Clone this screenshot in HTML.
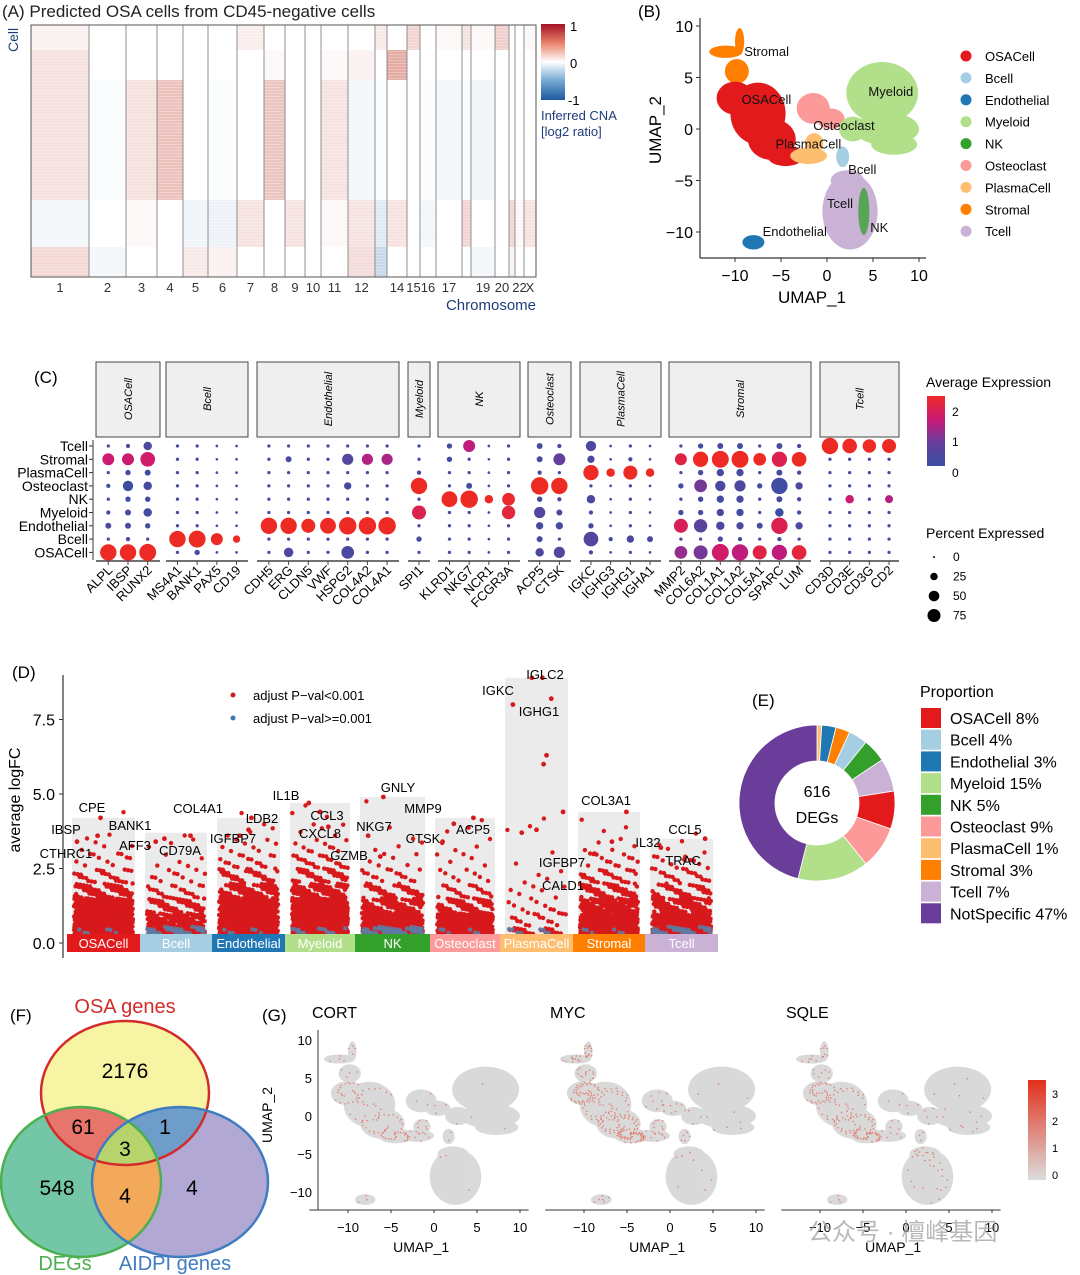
<!DOCTYPE html>
<html><head><meta charset="utf-8">
<style>
html,body{margin:0;padding:0;background:#fff;}
svg{display:block;font-family:"Liberation Sans","Noto Sans CJK SC",sans-serif;}
</style></head>
<body>
<svg id="fig" width="1080" height="1275" viewBox="0 0 1080 1275" xmlns="http://www.w3.org/2000/svg">
<defs>
<linearGradient id="cnaGrad" x1="0" y1="0" x2="0" y2="1"><stop offset="0" stop-color="#a50f26"/><stop offset="0.25" stop-color="#e8826a"/><stop offset="0.5" stop-color="#ffffff"/><stop offset="0.75" stop-color="#72a8d1"/><stop offset="1" stop-color="#1f5a9e"/></linearGradient>
<linearGradient id="expGrad" x1="0" y1="1" x2="0" y2="0"><stop offset="0" stop-color="#3a4fa3"/><stop offset="0.35" stop-color="#6a3d9a"/><stop offset="0.65" stop-color="#c8197a"/><stop offset="1" stop-color="#ee2a24"/></linearGradient>
<linearGradient id="featGrad" x1="0" y1="1" x2="0" y2="0"><stop offset="0" stop-color="#dcdcdc"/><stop offset="1" stop-color="#e2301c"/></linearGradient>
<pattern id="streaks" width="8" height="3" patternUnits="userSpaceOnUse"><rect width="8" height="1" fill="#ffffff" opacity="0.25"/></pattern>
<clipPath id="clipOSA"><ellipse cx="125" cy="1093" rx="84" ry="72"/></clipPath>
<clipPath id="clipDEG"><ellipse cx="81" cy="1182" rx="80" ry="75"/></clipPath>
<clipPath id="clipAID"><ellipse cx="180" cy="1182" rx="88" ry="75"/></clipPath>
</defs>

<text x="2" y="17" font-size="17" fill="#222">(A) Predicted OSA cells from CD45-negative cells</text>
<text x="0" y="0" font-size="14" fill="#1f3d7a" transform="translate(18,52) rotate(-90)">Cell</text>
<g id="heatmap"></g>
<rect x="541" y="24" width="24" height="76" fill="url(#cnaGrad)"/>
<text x="570" y="31" font-size="13">1</text>
<text x="570" y="68" font-size="13">0</text>
<text x="568" y="105" font-size="13">-1</text>
<text x="541" y="120" font-size="13" fill="#1f3d7a">Inferred CNA</text>
<text x="541" y="136" font-size="13" fill="#1f3d7a">[log2 ratio]</text>
<text x="536" y="310" font-size="15" fill="#1f3d7a" text-anchor="end">Chromosome</text>

<text x="638" y="17" font-size="17">(B)</text>
<g id="umapB"></g>
<text x="0" y="0" font-size="17" text-anchor="middle" transform="translate(661,130) rotate(-90)">UMAP_2</text>
<text x="812" y="303" font-size="17" text-anchor="middle">UMAP_1</text>

<text x="34" y="383" font-size="17">(C)</text>
<g id="dotplot"></g>
<text x="926" y="387" font-size="14">Average Expression</text>
<rect x="927" y="396" width="18" height="70" fill="url(#expGrad)"/>
<text x="952" y="416" font-size="12">2</text>
<text x="952" y="446" font-size="12">1</text>
<text x="952" y="477" font-size="12">0</text>
<text x="926" y="538" font-size="14">Percent Expressed</text>
<g id="pctLegend"></g>

<text x="12" y="678" font-size="17">(D)</text>
<g id="manhattan"></g>
<text x="0" y="0" font-size="16" text-anchor="middle" transform="translate(20,800) rotate(-90)">average logFC</text>
<circle cx="233" cy="695" r="2.5" fill="#d7191c"/>
<text x="253" y="700" font-size="13">adjust P−val&lt;0.001</text>
<circle cx="233" cy="718" r="2.5" fill="#3b78b0"/>
<text x="253" y="723" font-size="13">adjust P−val&gt;=0.001</text>

<text x="752" y="706" font-size="17">(E)</text>
<g id="donut"></g>
<text x="817" y="797" font-size="16" text-anchor="middle">616</text>
<text x="817" y="823" font-size="16" text-anchor="middle">DEGs</text>
<text x="920" y="697" font-size="16">Proportion</text>
<g id="donutLegend"></g>

<text x="10" y="1021" font-size="17">(F)</text>
<g>
<ellipse cx="125" cy="1093" rx="84" ry="72" fill="#f7f5a3"/>
<ellipse cx="81" cy="1182" rx="80" ry="75" fill="#74c7a6"/>
<ellipse cx="180" cy="1182" rx="88" ry="75" fill="#b2a8d4"/>
<g clip-path="url(#clipOSA)"><ellipse cx="81" cy="1182" rx="80" ry="75" fill="#e6756b"/><ellipse cx="180" cy="1182" rx="88" ry="75" fill="#6e9dc9"/></g>
<g clip-path="url(#clipDEG)"><ellipse cx="180" cy="1182" rx="88" ry="75" fill="#f2a95a"/></g>
<g clip-path="url(#clipOSA)"><g clip-path="url(#clipDEG)"><ellipse cx="180" cy="1182" rx="88" ry="75" fill="#b7d46c"/></g></g>
<ellipse cx="125" cy="1093" rx="84" ry="72" fill="none" stroke="#d42a2a" stroke-width="2.5"/>
<ellipse cx="81" cy="1182" rx="80" ry="75" fill="none" stroke="#4caf50" stroke-width="2.5"/>
<ellipse cx="180" cy="1182" rx="88" ry="75" fill="none" stroke="#3f7cc0" stroke-width="2.5"/>
<text x="125" y="1078" font-size="21" text-anchor="middle">2176</text>
<text x="83" y="1134" font-size="21" text-anchor="middle">61</text>
<text x="165" y="1134" font-size="21" text-anchor="middle">1</text>
<text x="125" y="1156" font-size="21" text-anchor="middle">3</text>
<text x="57" y="1195" font-size="21" text-anchor="middle">548</text>
<text x="125" y="1203" font-size="21" text-anchor="middle">4</text>
<text x="192" y="1195" font-size="21" text-anchor="middle">4</text>
<text x="125" y="1013" font-size="20" fill="#d42a2a" text-anchor="middle">OSA genes</text>
<text x="65" y="1270" font-size="20" fill="#4caf50" text-anchor="middle">DEGs</text>
<text x="175" y="1270" font-size="20" fill="#3f7cc0" text-anchor="middle">AIDPI genes</text>
</g>

<text x="262" y="1021" font-size="17">(G)</text>
<g id="featurePlots"></g>
<text x="0" y="0" font-size="14" text-anchor="middle" transform="translate(272,1115) rotate(-90)">UMAP_2</text>
<rect x="1028" y="1080" width="18" height="100" fill="url(#featGrad)"/>
<text x="1052" y="1098" font-size="11">3</text>
<text x="1052" y="1125" font-size="11">2</text>
<text x="1052" y="1152" font-size="11">1</text>
<text x="1052" y="1179" font-size="11">0</text>
<text x="808" y="1240" font-size="24" fill="#9a9a9a" opacity="0.7">公众号 · 檀峰基因</text>
</svg>

<script>
const chromNames = ["1","2","3","4","5","6","7","8","9","10","11","12","13","14","15","16","17","18","19","20","21","22","X"];
const chromLabels = ["1","2","3","4","5","6","7","8","9","10","11","12","","14","15","16","17","","19","20","","22","X"];
const chromEdges = [31,89,126,157,183,208,237,264,285,305,321,348,375,387,407,420,436,462,471,495,509,515,524,536];
const cellBandEdges = [25,50,80,200,247,277];
const cnaBand0 = [0.1,0,0,0,0,0,0.12,0,0,0,0,0,0.15,0,0.3,0,0.05,0.2,0.05,0.35,0,0,0.05];
const cnaBand1 = [0.22,0,0,0,0,0,0,0.05,0,0,0.05,0.1,0,0.6,0,0,0,0,0,0,0,0,0];
const cnaBand2 = [0.22,-0.05,0.22,0.45,0,-0.03,0,0.42,0,0,0.2,-0.1,-0.05,0,0,-0.05,-0.1,-0.05,-0.12,0,0,0,0];
const cnaBand3 = [-0.1,0,0.05,0,-0.12,-0.15,0.2,0,0.2,0,0.05,0.2,-0.25,0.2,0,-0.1,0,0.3,0,0,0.3,0.05,0.2];
const cnaBand4 = [0.28,-0.1,0,0,0.15,0.1,0,0,0,0,0,0.25,-0.45,0,0,0,0,0,-0.1,0,0.1,0,0];
const cnaBands = [cnaBand0,cnaBand1,cnaBand2,cnaBand3,cnaBand4];

const clusterNames = ["OSACell","Bcell","Endothelial","Myeloid","NK","Osteoclast","PlasmaCell","Stromal","Tcell"];
const clusterColors = ["#e31a1c","#a6cee3","#1f78b4","#b2df8a","#33a02c","#fb9a99","#fdbf6f","#ff7f00","#cab2d6"];
const umapBlobs = [
 [7,-11,7.5,1.8,0.6],[7,-9.5,8.5,0.5,1.3],[7,-9.8,5.6,1.3,1.2],
 [0,-10,3,2,1.6],[0,-7.5,1.5,3,3],[0,-6,-1,2.6,2],[0,-4.5,-2.6,2,1],
 [6,-2,-2.6,2,0.8],[6,-1.4,-1.4,1,1],
 [5,-1.5,2,1.8,1.5],[5,0.4,1,1.5,1],
 [3,6,3.5,3.9,3],[3,6.5,0,3.5,1.6],[3,2.8,0,1.5,1.2],[3,7.3,-1.5,2.5,1],
 [1,1.7,-2.7,0.7,1],
 [8,2.5,-8,3,3.7],[8,2.2,-5,1.8,1],
 [4,4,-8,0.6,2.3],
 [2,-8,-11,1.2,0.7]
];
const umapLabelText = ["Stromal","OSACell","Osteoclast","PlasmaCell","Myeloid","Bcell","Tcell","NK","Endothelial"];
const umapLabelU = [-9,-9.3,-1.5,-5.6,4.5,2.3,0,4.7,-7];
const umapLabelV = [7.5,2.8,0.3,-1.5,3.6,-4,-7.3,-9.6,-10];
const umapTicks = [-10,-5,0,5,10];

const dotRows = ["Tcell","Stromal","PlasmaCell","Osteoclast","NK","Myeloid","Endothelial","Bcell","OSACell"];
const facetNames = ["OSACell","Bcell","Endothelial","Myeloid","NK","Osteoclast","PlasmaCell","Stromal","Tcell"];
const facetGenes = [
 ["ALPL","IBSP","RUNX2"],["MS4A1","BANK1","PAX5","CD19"],["CDH5","ERG","CLDN5","VWF","HSPG2","COL4A2","COL4A1"],
 ["SPI1"],["KLRD1","NKG7","NCR1","FCGR3A"],["ACP5","CTSK"],["IGKC","IGHG3","IGHG1","IGHA1"],
 ["MMP2","COL6A2","COL1A1","COL1A2","COL5A1","SPARC","LUM"],["CD3D","CD3E","CD3G","CD2"]
];
const pctExpr = {
 ALPL:[3,40,3,5,3,5,10,3,75], IBSP:[5,40,8,30,8,10,10,5,75], RUNX2:[20,60,10,20,8,20,8,3,80],
 MS4A1:[3,3,3,3,3,3,3,75,3], BANK1:[3,3,3,3,3,3,3,80,8], PAX5:[2,2,2,2,2,2,2,40,2], CD19:[2,2,2,2,2,2,2,15,2],
 CDH5:[3,3,3,3,3,3,75,3,3], ERG:[3,10,3,3,3,3,75,3,25], CLDN5:[3,3,3,3,3,3,55,3,3], VWF:[3,3,3,3,3,3,70,3,3],
 HSPG2:[3,35,3,15,3,3,85,3,45], COL4A2:[3,35,3,3,3,3,85,3,3], COL4A1:[3,35,3,3,3,3,85,3,3],
 SPI1:[3,3,5,75,3,55,3,8,3],
 KLRD1:[8,8,3,3,70,3,3,3,3], NKG7:[40,3,3,10,85,3,3,3,3], NCR1:[2,2,2,2,20,2,2,2,2], FCGR3A:[3,3,3,3,45,50,3,3,3],
 ACP5:[10,10,5,85,8,35,15,10,20], CTSK:[5,40,3,75,5,10,15,3,35],
 IGKC:[30,15,65,3,20,5,8,60,5], IGHG3:[2,2,20,2,2,2,2,5,2], IGHG1:[3,5,55,3,3,3,3,15,3], IGHA1:[2,2,20,2,2,2,2,10,2],
 MMP2:[3,40,3,8,3,8,55,3,45], COL6A2:[8,65,8,45,8,8,50,3,55], COL1A1:[10,80,15,30,15,15,20,8,80],
 COL1A2:[10,80,15,35,15,15,15,5,75], COL5A1:[3,45,3,8,3,3,10,3,55], SPARC:[10,65,10,75,10,20,75,5,65], LUM:[5,60,5,15,5,5,15,3,60],
 CD3D:[75,3,3,3,3,3,3,3,3], CD3E:[60,3,3,3,20,3,3,3,3], CD3G:[50,3,3,3,3,3,3,3,3], CD2:[55,3,3,3,18,3,3,3,3]
};
const avgExpr = {
 ALPL:[-0.5,1.2,-0.5,-0.5,-0.5,-0.5,-0.3,-0.5,2.3], IBSP:[-0.5,1.2,-0.5,-0.5,-0.5,-0.5,-0.4,-0.5,2.3], RUNX2:[-0.3,1.3,-0.4,-0.4,-0.4,-0.4,-0.4,-0.5,2.3],
 MS4A1:[-0.5,-0.5,-0.5,-0.5,-0.5,-0.5,-0.5,2.3,-0.5], BANK1:[-0.5,-0.5,-0.5,-0.5,-0.5,-0.5,-0.5,2.3,-0.4], PAX5:[-0.5,-0.5,-0.5,-0.5,-0.5,-0.5,-0.5,2.3,-0.5], CD19:[-0.5,-0.5,-0.5,-0.5,-0.5,-0.5,-0.5,2.3,-0.5],
 CDH5:[-0.5,-0.5,-0.5,-0.5,-0.5,-0.5,2.3,-0.5,-0.5], ERG:[-0.5,-0.4,-0.5,-0.5,-0.5,-0.5,2.3,-0.5,-0.3], CLDN5:[-0.5,-0.5,-0.5,-0.5,-0.5,-0.5,2.3,-0.5,-0.5], VWF:[-0.5,-0.5,-0.5,-0.5,-0.5,-0.5,2.3,-0.5,-0.5],
 HSPG2:[-0.5,-0.2,-0.5,-0.4,-0.5,-0.5,2.3,-0.5,-0.3], COL4A2:[-0.5,0.9,-0.5,-0.5,-0.5,-0.5,2.3,-0.5,-0.5], COL4A1:[-0.5,0.8,-0.5,-0.5,-0.5,-0.5,2.3,-0.5,-0.5],
 SPI1:[-0.5,-0.5,-0.5,2.3,-0.5,1.6,-0.5,-0.4,-0.5],
 KLRD1:[-0.4,-0.5,-0.5,-0.5,2.3,-0.5,-0.5,-0.5,-0.5], NKG7:[1.0,-0.5,-0.5,-0.4,2.3,-0.5,-0.5,-0.5,-0.5], NCR1:[-0.5,-0.5,-0.5,-0.5,2.3,-0.5,-0.5,-0.5,-0.5], FCGR3A:[-0.5,-0.5,-0.5,-0.5,2.0,1.8,-0.5,-0.5,-0.5],
 ACP5:[-0.4,-0.4,-0.4,2.3,-0.4,-0.2,-0.4,-0.4,-0.3], CTSK:[-0.4,0.1,-0.5,2.3,-0.4,-0.4,-0.4,-0.5,-0.2],
 IGKC:[-0.3,-0.3,2.3,-0.5,-0.3,-0.5,-0.4,-0.2,-0.5], IGHG3:[-0.5,-0.5,2.3,-0.5,-0.5,-0.5,-0.5,-0.4,-0.5], IGHG1:[-0.5,-0.4,2.3,-0.5,-0.5,-0.5,-0.5,-0.3,-0.5], IGHA1:[-0.5,-0.5,2.3,-0.5,-0.5,-0.5,-0.5,-0.3,-0.5],
 MMP2:[-0.5,1.7,-0.5,-0.4,-0.5,-0.4,1.5,-0.5,0.6], COL6A2:[-0.4,2.1,-0.4,0.3,-0.4,-0.4,-0.1,-0.5,0.3], COL1A1:[-0.4,2.3,-0.4,-0.3,-0.4,-0.4,-0.3,-0.4,1.3],
 COL1A2:[-0.4,2.3,-0.4,-0.3,-0.4,-0.4,-0.3,-0.5,1.0], COL5A1:[-0.5,2.2,-0.5,-0.4,-0.5,-0.5,-0.4,-0.5,1.7], SPARC:[-0.4,1.6,-0.4,-0.5,-0.4,-0.6,1.6,-0.5,1.0], LUM:[-0.4,2.2,-0.4,-0.3,-0.4,-0.4,-0.3,-0.5,1.8],
 CD3D:[2.3,-0.5,-0.5,-0.5,-0.5,-0.5,-0.5,-0.5,-0.5], CD3E:[2.3,-0.5,-0.5,-0.5,1.2,-0.5,-0.5,-0.5,-0.5], CD3G:[2.3,-0.5,-0.5,-0.5,-0.5,-0.5,-0.5,-0.5,-0.5], CD2:[2.3,-0.5,-0.5,-0.5,0.9,-0.5,-0.5,-0.5,-0.5]
};
const pctLegendValues = [0,25,50,75];

const degClusters = clusterNames;
const degMaxFC = [4.2,3.7,4.2,4.7,4.9,4.2,8.9,4.4,3.5];
const sigCounts = [
 [260,210,150,60,25,10,5,2,1],
 [150,100,50,20,10,5,3,1],
 [260,210,130,75,35,15,8,4,1],
 [260,210,150,80,40,20,10,5,2,1],
 [220,150,80,40,15,6,3,2,0,1],
 [210,140,60,20,8,5,4,2,1],
 [60,15,10,6,4,1,1,2,1],
 [260,180,100,50,25,12,6,2,1],
 [230,150,80,40,20,10,4,1]
];
const nonsigCounts = [10,60,12,25,80,10,15,12,55];
const labGene = ["CPE","IBSP","CTHRC1","BANK1","AFF3","CD79A","COL4A1","LDB2","IGFBP7","IL1B","CCL3","CXCL8","GNLY","NKG7","GZMB","MMP9","ACP5","CTSK","IGKC","IGLC2","IGHG1","COL3A1","IGFBP7","CALD1","IL32","CCL5","TRAC"];
const labCluster = [0,0,0,1,1,1,2,2,2,3,3,3,4,4,4,5,5,5,6,6,6,7,7,7,8,8,8];
const labFC = [4.2,3.6,3.4,3.5,3.4,3.6,3.8,4.2,3.6,4.7,4.4,3.9,4.9,3.6,2.9,4.0,4.2,3.4,8.0,8.9,8.2,4.4,3.0,3.4,3.2,3.5,2.8];
const labPos = [0.45,0.4,0.05,0.3,0.15,0.75,0.5,0.55,0.35,0.3,0.5,0.65,0.35,0.1,0.3,0.3,0.65,0.1,0.1,0.6,0.75,0.8,0.25,0.55,0.15,0.9,0.55];
const labTextX = [92,66,66,130,135,180,198,262,233,286,327,320,398,374,349,423,473,423,498,545,539,606,562,563,648,685,683];
const labTextY = [807,829,853,825,845,850,808,818,838,795,815,833,787,826,855,808,829,838,690,674,711,800,862,885,842,829,860];
const extraPlasmaFC = [8.9,6.3,6.0,4.4,3.7,3.8];
const extraPlasmaPos = [0.42,0.67,0.62,0.95,0.25,0.5];
const yTicksD = [0,2.5,5,7.5];

const donutNames = ["PlasmaCell","Endothelial","Stromal","Bcell","NK","Tcell","OSACell","Osteoclast","Myeloid","NotSpecific"];
const donutValues = [1,3,3,4,5,7,8,9,15,47];
const donutColors = ["#fdbf6f","#1f78b4","#ff7f00","#a6cee3","#33a02c","#cab2d6","#e31a1c","#fb9a99","#b2df8a","#6a3d9a"];
const legendNames = ["OSACell 8%","Bcell 4%","Endothelial 3%","Myeloid 15%","NK 5%","Osteoclast 9%","PlasmaCell 1%","Stromal 3%","Tcell 7%","NotSpecific 47%"];
const legendColors = ["#e31a1c","#a6cee3","#1f78b4","#b2df8a","#33a02c","#fb9a99","#fdbf6f","#ff7f00","#cab2d6","#6a3d9a"];

const featGenes = ["CORT","MYC","SQLE"];
const featCounts = [
 [90,2,3,4,1,5,18,12,2],
 [200,5,6,12,2,15,20,40,6],
 [150,3,4,18,5,6,10,20,25]
];

const NS = "http://www.w3.org/2000/svg";
function mk(tag, attrs, parent){ const e=document.createElementNS(NS,tag); for(const k in attrs) e.setAttribute(k,attrs[k]); parent.appendChild(e); return e; }
function frac(x){ return x-Math.floor(x); }
function lerpColor(a,b,t){ const pa=[1,3,5].map(i=>parseInt(a.substr(i,2),16)), pb=[1,3,5].map(i=>parseInt(b.substr(i,2),16)); return "rgb("+pa.map((v,i)=>Math.round(v+(pb[i]-v)*t)).join(",")+")"; }
function cnaColor(v){ return v>=0 ? lerpColor("#ffffff","#c0392b",Math.min(1,v*0.7)) : lerpColor("#ffffff","#2166ac",Math.min(1,-v*0.55)); }
function expColor(v){ const s=["#3a4fa3","#6a3d9a","#c8197a","#ee2a24"], k=[-0.6,0.2,1.1,2.1]; if(v<=k[0])return s[0]; for(let i=1;i<4;i++){ if(v<=k[i]) return lerpColor(s[i-1],s[i],(v-k[i-1])/(k[i]-k[i-1])); } return s[3]; }

// Panel A
const hm = document.getElementById("heatmap");
for(let b=0;b<cnaBands.length;b++){
  for(let c=0;c<chromNames.length;c++){
    const r = mk("rect",{x:chromEdges[c],y:cellBandEdges[b],width:chromEdges[c+1]-chromEdges[c],height:cellBandEdges[b+1]-cellBandEdges[b],fill:cnaColor(cnaBands[b][c])},hm);
    
    
  }
}
const stre = mk("rect",{x:31,y:25,width:505,height:252,fill:"url(#streaks)"},hm);


for(let c=1;c<chromNames.length;c++){
  const l = mk("line",{x1:chromEdges[c],x2:chromEdges[c],y1:25,y2:277,stroke:"#777","stroke-width":0.8},hm);
  
  
}
const hb = mk("rect",{x:31,y:25,width:505,height:252,fill:"none",stroke:"#555","stroke-width":1},hm);


for(let c=0;c<chromNames.length;c++){
  if(!chromLabels[c]) continue;
  const t = mk("text",{x:(chromEdges[c]+chromEdges[c+1])/2,y:292,"font-size":13,"text-anchor":"middle",fill:"#333"},hm);
  t.textContent = chromLabels[c];
  
  
}

function drawBlobs(g, ux, uy, colorFn){
  for(const b of umapBlobs){
    const e = mk("ellipse",{cx:ux(b[1]),cy:uy(b[2]),rx:Math.abs(ux(b[1]+b[3])-ux(b[1])),ry:Math.abs(uy(b[2]+b[4])-uy(b[2])),fill:colorFn(b[0]),opacity:b[0]===4?0.75:1},g);
    
    
  }
}

// Panel B
const gB = document.getElementById("umapB");
const uxB = u => 827 + u*9.2, uyB = v => 129 - v*10.3;
drawBlobs(gB, uxB, uyB, i=>clusterColors[i]);
let ax = mk("line",{x1:700,y1:18,x2:700,y2:258,stroke:"#333","stroke-width":1.2},gB);
 
ax = mk("line",{x1:700,y1:258,x2:926,y2:258,stroke:"#333","stroke-width":1.2},gB);
 
for(const t of umapTicks){
  const tx = mk("text",{x:uxB(t),y:281,"font-size":16,"text-anchor":"middle"},gB);
  tx.textContent = t<0?"−"+(-t):String(t);
   
  const ty = mk("text",{x:693,y:uyB(t)+6,"font-size":16,"text-anchor":"end"},gB);
  ty.textContent = t<0?"−"+(-t):String(t);
   
  const m1 = mk("line",{x1:uxB(t),x2:uxB(t),y1:258,y2:262,stroke:"#333"},gB);
   
  const m2 = mk("line",{x1:696,x2:700,y1:uyB(t),y2:uyB(t),stroke:"#333"},gB);
   
}
for(let i=0;i<umapLabelText.length;i++){
  const t = mk("text",{x:uxB(umapLabelU[i]),y:uyB(umapLabelV[i])+4,"font-size":13,fill:"#111"},gB);
  t.textContent = umapLabelText[i];
   
}
for(let i=0;i<clusterNames.length;i++){
  const y = 56 + i*21.9;
  const c = mk("circle",{cx:966,cy:y,r:5.5,fill:clusterColors[i]},gB);
   
  const t = mk("text",{x:985,y:y+5,"font-size":13},gB);
  t.textContent = clusterNames[i];
   
}

// Panel C
const gC = document.getElementById("dotplot");
const facetX0 = [96,166,257,408,438,528,580,669,820];
const facetX1 = [160,248,399,430,520,571,661,811,899];
const rowY = i => 446 + i*13.3;
const gap = 19.7;
for(let r=0;r<dotRows.length;r++){
  const t = mk("text",{x:88,y:rowY(r)+5,"font-size":14,"text-anchor":"end"},gC);
  t.textContent = dotRows[r];
   
  const m = mk("line",{x1:89,x2:93,y1:rowY(r),y2:rowY(r),stroke:"#333"},gC);
   
}
const yl = mk("line",{x1:93,x2:93,y1:440,y2:560,stroke:"#333"},gC);
 
for(let f=0;f<facetNames.length;f++){
  const x0=facetX0[f], x1=facetX1[f];
  const box = mk("rect",{x:x0,y:362,width:x1-x0,height:75,fill:"#efefef",stroke:"#444","stroke-width":1},gC);
   
  const ft = mk("text",{x:0,y:0,"font-size":11,"font-style":"italic","text-anchor":"middle",transform:`translate(${(x0+x1)/2+4},399) rotate(-90)`},gC);
  ft.textContent = facetNames[f];
   
  const bl = mk("line",{x1:x0,x2:x1,y1:561,y2:561,stroke:"#444","stroke-width":1.5},gC);
   
  const genes = facetGenes[f];
  const w = (genes.length-1)*gap;
  const start = (x0+x1)/2 - w/2;
  genes.forEach((g,j)=>{
    const gx = start + j*gap;
    for(let r=0;r<dotRows.length;r++){
      const p = pctExpr[g][r], v = avgExpr[g][r];
      const rad = Math.max(1, Math.sqrt(p/75)*8.2);
      const c = mk("circle",{cx:gx,cy:rowY(r),r:rad,fill:expColor(v)},gC);
       
    }
    const tm = mk("line",{x1:gx,x2:gx,y1:561,y2:565,stroke:"#444"},gC);
     
    const gt = mk("text",{x:0,y:0,"font-size":13,"text-anchor":"end",transform:`translate(${gx+5},571) rotate(-45)`},gC);
    gt.textContent = g;
     
  });
}
const pl = document.getElementById("pctLegend");
pctLegendValues.forEach((v,i)=>{
  const y = 557 + i*19.5;
  const c = mk("circle",{cx:934,cy:y,r:Math.max(1,Math.sqrt(v/75)*6.5),fill:"#000"},pl);
   
  const t = mk("text",{x:953,y:y+4,"font-size":12},pl);
  t.textContent = String(v);
   
});

// Panel D
const gD = document.getElementById("manhattan");
const yD = v => 943 - v*29.8;
const dX0 = [67,140,212,285,355,430,500,573,645];
const dX1 = [140,212,285,355,430,500,573,645,718];
const yax = mk("line",{x1:63,x2:63,y1:675,y2:958,stroke:"#333","stroke-width":1.2},gD);
 
yTicksD.forEach(v=>{
  const t = mk("text",{x:55,y:yD(v)+6,"font-size":16,"text-anchor":"end"},gD);
  t.textContent = v.toFixed(1);
   
  const m = mk("line",{x1:59,x2:63,y1:yD(v),y2:yD(v),stroke:"#333"},gD);
   
});
for(let c=0;c<degClusters.length;c++){
  const bx0 = dX0[c]+5, bx1 = dX1[c]-5;
  const bg = mk("rect",{x:bx0,y:yD(degMaxFC[c]),width:bx1-bx0,height:yD(0)-yD(degMaxFC[c]),fill:"#ebebeb"},gD);
   
}
for(let c=0;c<degClusters.length;c++){
  const bx0 = dX0[c]+7, bw = dX1[c]-dX0[c]-14;
  let idx = 0;
  sigCounts[c].forEach((n,b)=>{
    for(let k=0;k<n;k++){
      idx++;
      const x = bx0 + frac(idx*0.6180339 + c*0.137)*bw;
      const v = b*0.5 + frac(idx*0.7548777 + c*0.31)*0.5;
      const d = mk("circle",{cx:x.toFixed(1),cy:yD(v).toFixed(1),r:2.2,fill:"#d7191c"},gD);
       
    }
  });
  for(let k=0;k<nonsigCounts[c];k++){
    const x = bx0 + frac((k+1)*0.6180339 + c*0.5)*bw;
    const v = 0.1 + frac((k+1)*0.7548777)*0.45;
    const d = mk("circle",{cx:x.toFixed(1),cy:yD(v).toFixed(1),r:2.2,fill:"#5b7fa8",opacity:0.85},gD);
     
  }
}
extraPlasmaFC.forEach((v,i)=>{
  const x = dX0[6]+7 + extraPlasmaPos[i]*(dX1[6]-dX0[6]-14);
  const d = mk("circle",{cx:x,cy:yD(v),r:2.4,fill:"#d7191c"},gD);
   
});
labGene.forEach((g,i)=>{
  const c = labCluster[i];
  const x = dX0[c]+7 + labPos[i]*(dX1[c]-dX0[c]-14);
  const d = mk("circle",{cx:x,cy:yD(labFC[i]),r:2.4,fill:"#d7191c"},gD);
   
  const t = mk("text",{x:labTextX[i],y:labTextY[i]+5,"font-size":13,"text-anchor":"middle"},gD);
  t.textContent = g;
   
});
for(let c=0;c<degClusters.length;c++){
  const r = mk("rect",{x:dX0[c],y:934,width:dX1[c]-dX0[c],height:18,fill:clusterColors[c]},gD);
   
  const t = mk("text",{x:(dX0[c]+dX1[c])/2,y:948,"font-size":13,"text-anchor":"middle",fill:"#fff"},gD);
  t.textContent = degClusters[c];
   
}

// Panel E
const gE = document.getElementById("donut");
const total = donutValues.reduce((a,b)=>a+b,0);
const cx=817, cy=803, R=78, r0=42;
let acc = 0;
donutValues.forEach((v,i)=>{
  const a0 = acc/total*2*Math.PI, a1 = (acc+v)/total*2*Math.PI; acc += v;
  const p = (a,rr)=>[cx+rr*Math.sin(a), cy-rr*Math.cos(a)];
  const [x0,y0]=p(a0,R),[x1,y1]=p(a1,R),[x2,y2]=p(a1,r0),[x3,y3]=p(a0,r0);
  const large = (a1-a0)>Math.PI?1:0;
  const path = mk("path",{d:`M${x0},${y0}A${R},${R} 0 ${large} 1 ${x1},${y1}L${x2},${y2}A${r0},${r0} 0 ${large} 0 ${x3},${y3}Z`,fill:donutColors[i],stroke:"#fff","stroke-width":0.8},gE);
   
});
const dl = document.getElementById("donutLegend");
legendNames.forEach((n,i)=>{
  const y = 708 + i*21.7;
  const r = mk("rect",{x:921,y:y,width:20,height:20,fill:legendColors[i]},dl);
   
  const t = mk("text",{x:950,y:y+16,"font-size":16},dl);
  t.textContent = n;
   
});

// Panel G
const gG = document.getElementById("featurePlots");
const featOffsets = [0,236,472];
const featTitleX = [312,550,786];
featGenes.forEach((gname,gi)=>{
  const off = featOffsets[gi];
  const ux = u => 434 + off + u*8.6, uy = v => 1116 - v*7.6;
  const sub = mk("g",{},gG);
   
  drawBlobs(sub, ux, uy, ()=>"#d9d9d9");
  umapBlobs.forEach((b,bi)=>{
    const cnt = Math.round(featCounts[gi][b[0]] / umapBlobs.filter(x=>x[0]===b[0]).length);
    for(let k=0;k<cnt;k++){
      const ang = frac(k*0.6180339+bi*0.21)*2*Math.PI, rad = Math.sqrt(frac(k*0.7548777+bi*0.37))*0.95;
      const d = mk("circle",{cx:(ux(b[1]+Math.cos(ang)*rad*b[3])).toFixed(1),cy:(uy(b[2]+Math.sin(ang)*rad*b[4])).toFixed(1),r:0.8,fill:"#e8452f",opacity:0.6},sub);
       
    }
  });
  const t = mk("text",{x:featTitleX[gi],y:1018,"font-size":16},gG);
  t.textContent = gname;
   
  const xa = mk("line",{x1:ux(-14.5),x2:ux(11),y1:1210,y2:1210,stroke:"#333"},gG);
   
  umapTicks.forEach(tv=>{
    const tt = mk("text",{x:ux(tv),y:1232,"font-size":13,"text-anchor":"middle"},gG);
    tt.textContent = tv<0?"−"+(-tv):String(tv);
     
    const tm = mk("line",{x1:ux(tv),x2:ux(tv),y1:1210,y2:1213,stroke:"#333"},gG);
     
  });
  const xt = mk("text",{x:ux(-1.5),y:1252,"font-size":14,"text-anchor":"middle"},gG);
  xt.textContent = "UMAP_1";
   
  if(gi===0){
    const ya = mk("line",{x1:318,x2:318,y1:1030,y2:1210,stroke:"#333"},gG);
     
    umapTicks.forEach(tv=>{
      const tt = mk("text",{x:312,y:uy(tv)+5,"font-size":13,"text-anchor":"end"},gG);
      tt.textContent = tv<0?"−"+(-tv):String(tv);
       
    });
  }
});
</script>
</body></html>
